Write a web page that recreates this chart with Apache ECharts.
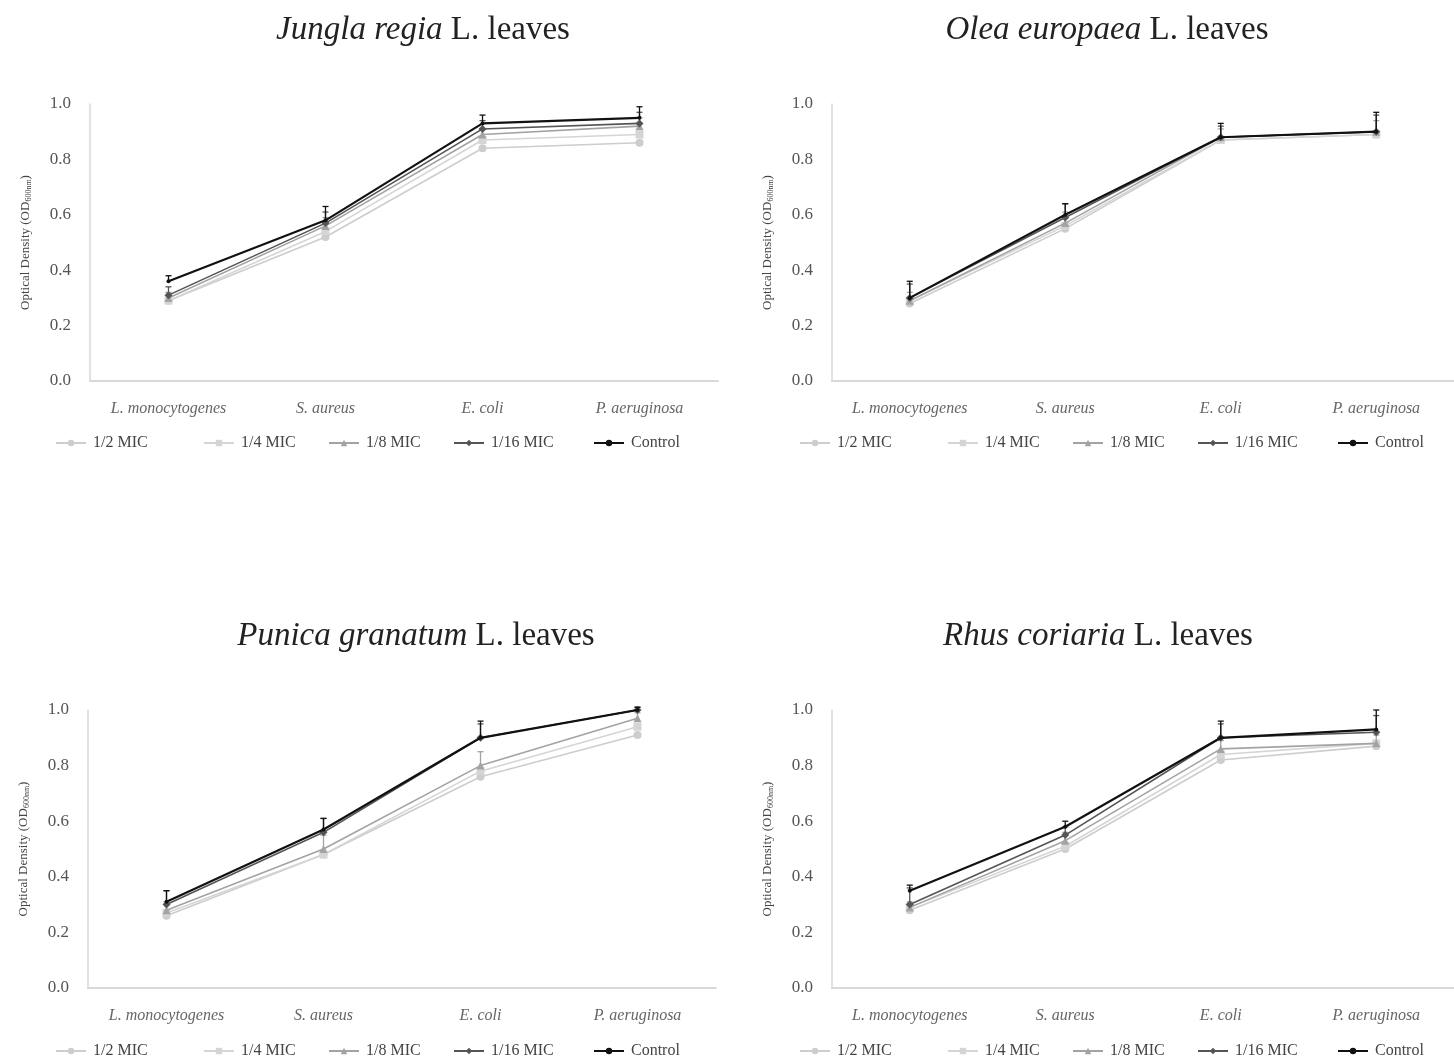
<!DOCTYPE html>
<html><head><meta charset="utf-8">
<script src="https://cdn.jsdelivr.net/npm/echarts@6/dist/echarts.min.js"></script>
<style>html,body{margin:0;padding:0;background:#fff}#c{width:1454px;height:1062px}</style>
</head><body><div id="c"></div>
<script>
const categories = ['L. monocytogenes', 'S. aureus', 'E. coli', 'P. aeruginosa'];
const seriesNames = ['1/2 MIC', '1/4 MIC', '1/8 MIC', '1/16 MIC', 'Control'];
const yTicks = [0, 0.2, 0.4, 0.6, 0.8, 1.0];

// Jungla regia L. leaves
const junglaHalf = [0.29, 0.52, 0.84, 0.86];
const junglaQuarter = [0.29, 0.54, 0.87, 0.89];
const junglaEighth = [0.30, 0.56, 0.89, 0.92];
const junglaSixteenth = [0.31, 0.57, 0.91, 0.93];
const junglaControl = [0.36, 0.58, 0.93, 0.95];
const junglaErrEighth = [0.02, 0.03, 0.02, 0.03];
const junglaErrSixteenth = [0.03, 0.04, 0.03, 0.04];
const junglaErrControl = [0.02, 0.05, 0.03, 0.04];

// Olea europaea L. leaves
const oleaHalf = [0.28, 0.55, 0.87, 0.89];
const oleaQuarter = [0.29, 0.56, 0.87, 0.89];
const oleaEighth = [0.29, 0.57, 0.88, 0.90];
const oleaSixteenth = [0.30, 0.59, 0.88, 0.90];
const oleaControl = [0.30, 0.60, 0.88, 0.90];
const oleaErrEighth = [0.03, 0.04, 0.03, 0.04];
const oleaErrSixteenth = [0.05, 0.05, 0.04, 0.06];
const oleaErrControl = [0.06, 0.04, 0.05, 0.07];

// Punica granatum L. leaves
const punicaHalf = [0.26, 0.48, 0.76, 0.91];
const punicaQuarter = [0.27, 0.48, 0.78, 0.94];
const punicaEighth = [0.28, 0.50, 0.80, 0.97];
const punicaSixteenth = [0.30, 0.56, 0.90, 1.00];
const punicaControl = [0.31, 0.57, 0.90, 1.00];
const punicaErrEighth = [0.03, 0.05, 0.05, 0.02];
const punicaErrSixteenth = [0.05, 0.05, 0.05, 0.01];
const punicaErrControl = [0.04, 0.04, 0.06, 0.01];

// Rhus coriaria L. leaves
const rhusHalf = [0.28, 0.50, 0.82, 0.87];
const rhusQuarter = [0.29, 0.51, 0.84, 0.88];
const rhusEighth = [0.29, 0.53, 0.86, 0.88];
const rhusSixteenth = [0.30, 0.55, 0.90, 0.92];
const rhusControl = [0.35, 0.58, 0.90, 0.93];
const rhusErrEighth = [0.02, 0.03, 0.03, 0.03];
const rhusErrSixteenth = [0.06, 0.03, 0.05, 0.06];
const rhusErrControl = [0.02, 0.02, 0.06, 0.07];

const FONT = '"Liberation Serif", "Times New Roman", serif';
const styles = [
  { color: '#cdcdcd', symbol: 'circle', size: 8, width: 1.6 },
  { color: '#d5d5d5', symbol: 'rect', size: 8, width: 1.6 },
  { color: '#a3a3a3', symbol: 'triangle', size: 8, width: 1.6 },
  { color: '#555555', symbol: 'diamond', size: 8, width: 1.6 },
  { color: '#111111', symbol: 'circle', size: 4, width: 2.2 }
];

const panels = [
  { italic: 'Jungla regia', rest: 'L. leaves', tx: 423, ty: 30, left: 90, top: 104, h: 277, lx: 0, ly: 430,
    values: [junglaHalf, junglaQuarter, junglaEighth, junglaSixteenth, junglaControl],
    errs: { 2: junglaErrEighth, 3: junglaErrSixteenth, 4: junglaErrControl } },
  { italic: 'Olea europaea', rest: 'L. leaves', tx: 1107, ty: 30, left: 832, top: 104, h: 277, lx: 744, ly: 430,
    values: [oleaHalf, oleaQuarter, oleaEighth, oleaSixteenth, oleaControl],
    errs: { 2: oleaErrEighth, 3: oleaErrSixteenth, 4: oleaErrControl } },
  { italic: 'Punica granatum', rest: 'L. leaves', tx: 416, ty: 636, left: 88, top: 710, h: 278, lx: 0, ly: 1038,
    values: [punicaHalf, punicaQuarter, punicaEighth, punicaSixteenth, punicaControl],
    errs: { 2: punicaErrEighth, 3: punicaErrSixteenth, 4: punicaErrControl } },
  { italic: 'Rhus coriaria', rest: 'L. leaves', tx: 1098, ty: 636, left: 832, top: 710, h: 278, lx: 744, ly: 1038,
    values: [rhusHalf, rhusQuarter, rhusEighth, rhusSixteenth, rhusControl],
    errs: { 2: rhusErrEighth, 3: rhusErrSixteenth, 4: rhusErrControl } }
];

const legendOffsets = [50, 198, 323, 448, 588];

const grid = [], xAxis = [], yAxis = [], series = [], legend = [], graphic = [];

panels.forEach((p, pi) => {
  grid.push({ left: p.left, top: p.top, width: 628, height: p.h, containLabel: false });
  xAxis.push({
    type: 'category', gridIndex: pi, data: categories, boundaryGap: true,
    axisLine: { lineStyle: { color: '#d9d9d9', width: 2 } },
    axisTick: { show: false },
    axisLabel: { fontFamily: FONT, fontStyle: 'italic', fontSize: 16, color: '#666', margin: 20, interval: 0 }
  });
  yAxis.push({
    type: 'value', gridIndex: pi, min: 0, max: 1, interval: 0.2,
    name: '{n|Optical Density (OD}{s|600nm}{n|)}',
    nameLocation: 'middle', nameRotate: 90, nameGap: 57,
    nameTextStyle: { rich: {
      n: { fontFamily: FONT, fontSize: 13, color: '#444' },
      s: { fontFamily: FONT, fontSize: 8, color: '#444', verticalAlign: 'bottom', padding: [6, 0, 0, 0] }
    } },
    axisLine: { show: true, lineStyle: { color: '#d9d9d9', width: 1.5 } },
    axisTick: { show: false },
    splitLine: { show: false },
    axisLabel: { fontFamily: FONT, fontSize: 17, color: '#555', margin: 19, formatter: v => v.toFixed(1) }
  });

  graphic.push({
    type: 'text', x: p.tx, y: p.ty, silent: true,
    style: {
      text: '{i|' + p.italic + '}{n| L. leaves}',
      align: 'center', verticalAlign: 'middle',
      rich: {
        i: { fontFamily: FONT, fontStyle: 'italic', fontSize: 33, fill: '#222' },
        n: { fontFamily: FONT, fontSize: 33, fill: '#222' }
      }
    }
  });

  seriesNames.forEach((name, si) => {
    const st = styles[si];
    series.push({
      name: name, type: 'line', xAxisIndex: pi, yAxisIndex: pi,
      data: p.values[si],
      symbol: st.symbol, symbolSize: st.size, showSymbol: true,
      lineStyle: { color: st.color, width: st.width },
      itemStyle: { color: st.color },
      z: 2 + si,
      animation: false
    });
    const e = p.errs[si];
    if (e) {
      series.push({
        name: 'err-' + name, type: 'custom', xAxisIndex: pi, yAxisIndex: pi,
        data: p.values[si].map((v, i) => [i, v, v + e[i]]),
        renderItem: (params, api) => {
          const a = api.coord([api.value(0), api.value(1)]);
          const b = api.coord([api.value(0), api.value(2)]);
          const col = st.color;
          return { type: 'group', children: [
            { type: 'line', shape: { x1: a[0], y1: a[1], x2: b[0], y2: b[1] }, style: { stroke: col, lineWidth: 1.3 } },
            { type: 'line', shape: { x1: b[0] - 3, y1: b[1], x2: b[0] + 3, y2: b[1] }, style: { stroke: col, lineWidth: 1.3 } }
          ] };
        },
        silent: true, z: 2 + si, animation: false
      });
    }
    legend.push({
      data: [name], left: p.lx + legendOffsets[si], top: p.ly,
      itemWidth: 30, itemHeight: 8, itemGap: 0, selectedMode: false,
      textStyle: { fontFamily: FONT, fontSize: 16, color: '#444', padding: [0, 0, 0, 2] }
    });
  });
});

const chart = echarts.init(document.getElementById('c'), null, { renderer: 'canvas' });
chart.setOption({ backgroundColor: '#fff', animation: false, grid, xAxis, yAxis, series, legend, graphic });
</script>
</body></html>
